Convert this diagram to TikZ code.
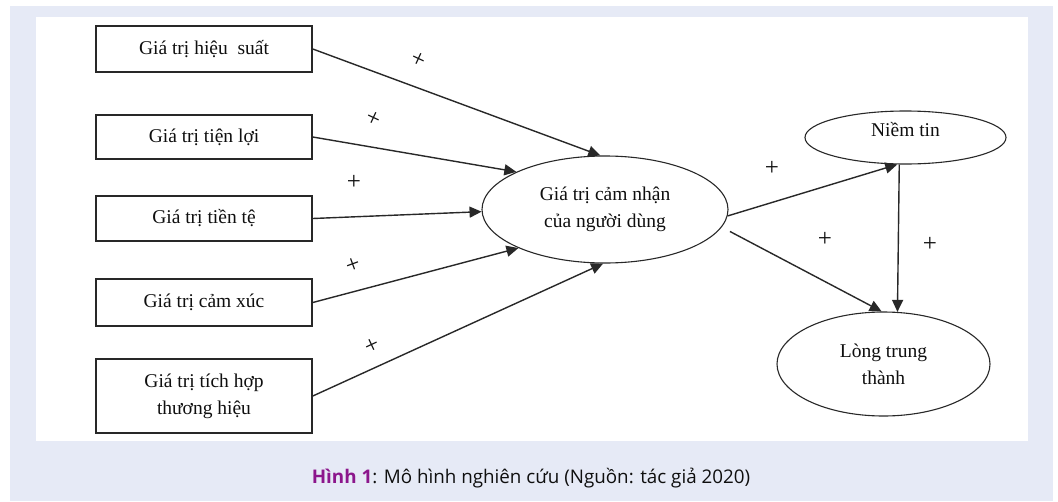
\documentclass[tikz,border=0pt]{standalone}
\usepackage{fontspec}
\setmainfont{Liberation Serif}
\newfontfamily\capfont{Open Sans}
\usetikzlibrary{arrows.meta,shapes.geometric}
\definecolor{pagebg}{RGB}{230,234,246}
\definecolor{cappurple}{RGB}{140,22,140}
\definecolor{ink}{RGB}{40,40,40}
\definecolor{txt}{RGB}{15,15,15}

\begin{document}
\begin{tikzpicture}[x=1pt,y=-1pt,
  factor/.style={draw=ink, line width=1.6pt, minimum width=216pt, inner sep=0pt,
    align=center, text=txt, font=\fontsize{19.5}{27}\selectfont},
  construct/.style={draw=ink, line width=1.1pt, ellipse, inner sep=0pt,
    align=center, text=txt, font=\fontsize{19.5}{27}\selectfont},
  link/.style={draw=ink, line width=1.4pt, -{Triangle[length=12pt,width=11pt]}},
  sign/.style={text=txt, inner sep=0pt, font=\fontsize{25}{25}\selectfont}]

\useasboundingbox (0,0) rectangle (1058,501);
\fill[white] (0,0) rectangle (1058,501);
\fill[pagebg] (10,6) rectangle (1053,501);
\fill[white] (36,17) rectangle (1028,441);

% antecedent value factors
\node[factor, minimum height=46pt] (perf) at (204,49) {Giá trị hiệu\ \ suất};
\node[factor, minimum height=44pt] (conv) at (204,137) {Giá trị tiện lợi};
\node[factor, minimum height=45pt] (money) at (204,218.5) {Giá trị tiền tệ};
\node[factor, minimum height=47pt] (emo) at (204,302.5) {Giá trị cảm xúc};
\node[factor, minimum height=74pt] (brand) at (204,396) {Giá trị tích hợp\\thương hiệu};

% latent constructs
\node[construct, minimum width=246pt, minimum height=107pt] (pv) at (605,209.5)
  {Giá trị cảm nhận\\của người dùng};
\node[construct, minimum width=201pt, minimum height=53pt] (trust) at (905.5,137.5) {};
\node[text=txt, inner sep=0pt, font=\fontsize{19.5}{27}\selectfont] (trusttext)
  at (905.5,130) {Niềm tin};
\node[construct, minimum width=213pt, minimum height=104pt] (loyal) at (883.5,364)
  {Lòng trung\\thành};

% paths
\draw[link] (perf.east) -- (pv.95);
\draw[link] (conv.east) -- (pv.157);
\draw[link] (money.east) -- (pv.181);
\draw[link] (emo.east) -- (pv.204);
\draw[link] (brand.east) -- (pv.268);
\draw[link] (pv.357) -- (trust.253);
\draw[link] ([xshift=12pt]pv.349) -- (loyal.92);
\draw[link] (trust.257) -- (loyal.75);

% path signs
\node[sign, rotate=-25] (s1) at (418,60) {+};
\node[sign, rotate=-25] (s2) at (373,119) {+};
\node[sign] (s3) at (354,182) {+};
\node[sign, rotate=20] (s4) at (353,265) {+};
\node[sign, rotate=25] (s5) at (372,346) {+};
\node[sign] (s6) at (772,168) {+};
\node[sign] (s7) at (825,239) {+};
\node[sign] (s8) at (930,244) {+};

% caption
\node[inner sep=0pt, text=txt, font=\capfont\fontsize{18.8}{22}\selectfont] (cap) at (531,478)
  {{\color{cappurple}\bfseries Hình 1}: Mô hình nghiên cứu (Nguồn: tác giả 2020)};
\end{tikzpicture}
\end{document}
